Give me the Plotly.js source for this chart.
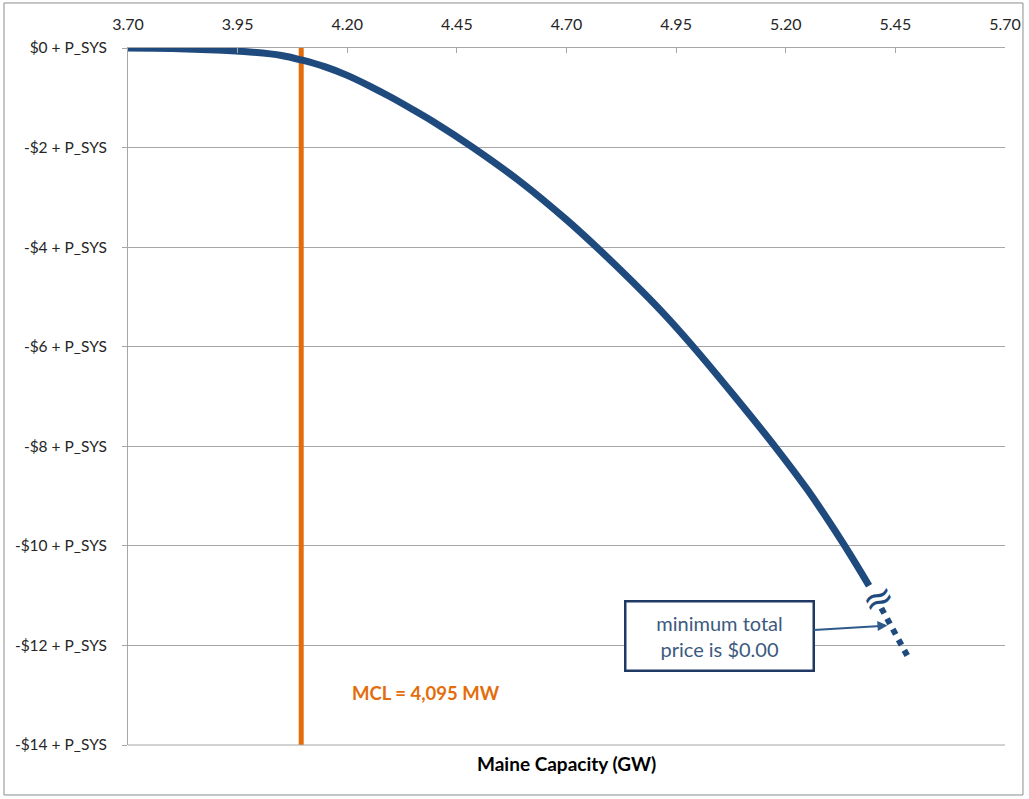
<!DOCTYPE html>
<html>
<head>
<meta charset="utf-8">
<script src="https://cdn.plot.ly/plotly-3.0.1.min.js"></script>
<style>html,body{margin:0;padding:0;background:#fff;}#chart{width:1029px;height:799px;}</style>
</head>
<body>
<div id="chart"></div>
<script>
// Data
const capacityGW = [3.70, 3.80, 3.90, 3.978, 4.05, 4.095, 4.15, 4.20, 4.25, 4.30, 4.35, 4.40, 4.487, 4.60, 4.70, 4.765, 4.85, 4.92, 4.989, 5.08, 5.175, 5.25, 5.331, 5.39];
const priceOffset = [0, -0.01, -0.04, -0.08, -0.15, -0.24, -0.38, -0.55, -0.76, -0.99, -1.24, -1.50, -2.0, -2.72, -3.45, -3.97, -4.69, -5.32, -6.0, -6.96, -8.0, -8.88, -9.95, -10.8];
const extCapacityGW = [5.418, 5.483];
const extPriceOffset = [-11.25, -12.3];
const mclGW = [4.095, 4.095];
const mclRange = [0, -14];
const xTickVals = [3.70, 3.95, 4.20, 4.45, 4.70, 4.95, 5.20, 5.45, 5.70];
const xTickText = ["3.70", "3.95", "4.20", "4.45", "4.70", "4.95", "5.20", "5.45", "5.70"];
const yTickVals = [0, -2, -4, -6, -8, -10, -12, -14];
const yTickText = ["$0 + P_SYS", "-$2 + P_SYS", "-$4 + P_SYS", "-$6 + P_SYS", "-$8 + P_SYS", "-$10 + P_SYS", "-$12 + P_SYS", "-$14 + P_SYS"];

const FONT = "Lato, 'Open Sans', sans-serif";
const navy = "#1f4a7e";
const orange = "#e46c0a";

const traces = [
  {x: mclGW, y: mclRange, mode: "lines", line: {color: orange, width: 5}, hoverinfo: "skip", showlegend: false},
  {x: capacityGW, y: priceOffset, mode: "lines", line: {color: navy, width: 7, shape: "spline", smoothing: 1}, showlegend: false},
  {x: extCapacityGW, y: extPriceOffset, mode: "lines", line: {color: navy, width: 6, dash: "dot"}, showlegend: false}
];

const layout = {
  width: 1029, height: 799,
  margin: {l: 128, r: 24, t: 48, b: 54},
  paper_bgcolor: "#fff", plot_bgcolor: "#fff",
  font: {family: FONT, size: 15, color: "#262626"},
  xaxis: {
    side: "top", range: [3.70, 5.70], tickvals: xTickVals, ticktext: xTickText,
    showgrid: false, zeroline: false, showline: true, linecolor: "#a6a6a6", linewidth: 1,
    ticks: "inside", ticklen: 5, tickcolor: "#a6a6a6", ticklabelstandoff: 11,
    tickfont: {family: FONT, size: 16, color: "#262626"}, fixedrange: true
  },
  yaxis: {
    range: [-14, 0], tickvals: yTickVals, ticktext: yTickText,
    showgrid: true, gridcolor: "#a6a6a6", gridwidth: 1, zeroline: false,
    showline: true, linecolor: "#a6a6a6", linewidth: 1,
    ticks: "outside", ticklen: 5, tickcolor: "#a6a6a6", ticklabelstandoff: 12,
    tickfont: {family: FONT, size: 15.5, color: "#262626"}, fixedrange: true
  },
  shapes: [
    {type: "rect", xref: "paper", yref: "paper", x0: -0.1414, x1: 1.0205, y0: -0.0717, y1: 1.0646,
     line: {color: "#8c8c8c", width: 1}, fillcolor: "rgba(0,0,0,0)", layer: "below"},
    {type: "line", xref: "paper", yref: "paper", x0: 0, x1: 1, y0: 0, y1: 0, line: {color: "#a6a6a6", width: 1}}
  ],
  annotations: [
    {xref: "paper", yref: "paper", x: 0.5, y: -0.026, yanchor: "middle", xanchor: "center", showarrow: false,
     text: "<b>Maine Capacity (GW)</b>", font: {family: FONT, size: 19, color: "#000"}},
    {x: 4.38, y: -12.95, showarrow: false, text: "<b>MCL = 4,095 MW</b>",
     font: {family: FONT, size: 18.5, color: orange}},
    {x: 5.41, y: -11.05, showarrow: false, text: "≈", textangle: -25,
     font: {family: "DejaVu Sans", size: 38, color: navy}},
    {x: 5.432, y: -11.6, ax: -168, ay: 10, showarrow: true, arrowhead: 2, arrowsize: 1, arrowwidth: 2,
     arrowcolor: "#2e5a8a", text: "minimum total<br>price is $0.00", align: "center",
     font: {family: FONT, size: 20, color: "#3c5a80"}, bgcolor: "#fff", bordercolor: "#1f3864",
     borderwidth: 2.5, borderpad: 0, width: 186, height: 67}
  ]
};

Plotly.newPlot("chart", traces, layout, {displayModeBar: false, staticPlot: true});
</script>
</body>
</html>
